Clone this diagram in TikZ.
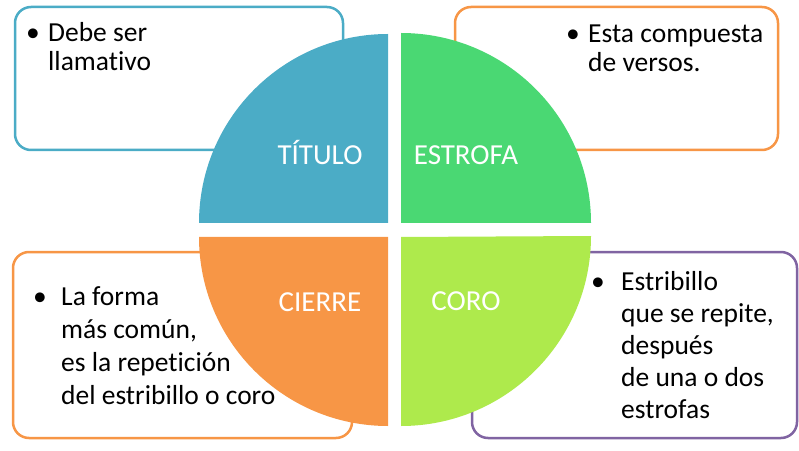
\documentclass[tikz,border=0pt]{standalone}
\usepackage{fontspec}
\setmainfont{Carlito}[Ligatures=NoCommon]
\definecolor{azul}{HTML}{4BACC6}
\definecolor{verde}{HTML}{4AD873}
\definecolor{lima}{HTML}{AEEA4C}
\definecolor{naranja}{HTML}{F79646}
\definecolor{morado}{HTML}{8064A2}
\begin{document}
\begin{tikzpicture}[x=1pt,y=1pt,font=\fontsize{27.5}{29}\selectfont,
  caja/.style={line width=2.5pt,rounded corners=16pt,fill=white},
  rotulo/.style={text=white,anchor=base,inner sep=0pt,font=\fontsize{29}{32}\selectfont},
  punto/.style={anchor=base west,inner sep=0pt},
  texto/.style={anchor=base west,align=left,inner sep=0pt}]
\useasboundingbox (0,0) rectangle (799,450);
%boxes
 \draw[caja,draw=azul] (15,300) rectangle (343,443); %titulo box
 \draw[caja,draw=naranja] (455,300) rectangle (778,443); %estrofa box
 \draw[caja,draw=naranja] (13,12) rectangle (352,198); %cierre box
 \draw[caja,draw=morado] (472,12) rectangle (797,198); %coro box
%circle
	%quarters
	\fill[azul] (388,227) -- ++(0,189) arc[start angle=90,end angle=180,radius=189] -- cycle; %titulo
	\fill[verde] (401,227) -- ++(190,0) arc[start angle=0,end angle=90,radius=190] -- cycle; %estrofa
	\fill[naranja] (388,213) -- ++(-189,0) arc[start angle=180,end angle=270,radius=189] -- cycle; %cierre
	\fill[lima] (401,213) -- ++(0,-189) arc[start angle=270,end angle=360,radius=190] -- cycle; %coro
	
	%labels
	\node[rotulo] (titulo) at (320,285) {TÍTULO};
	\node[rotulo] (estrofa) at (466,285) {ESTROFA};
	\node[rotulo] (cierre) at (320,139) {CIERRE};
	\node[rotulo] (coro) at (466,140) {CORO};
%bullets (text nodes sit on their last line)
 \node[punto] (p1) at (26,408) {•};
 \node[texto] (t1) at (48,379) {Debe ser\\llamativo}; %titulo text
 \node[punto] (p2) at (566,407) {•};
 \node[texto] (t2) at (588,378) {Esta compuesta\\de versos.}; %estrofa text
 \node[punto] (p3) at (33,145) {•};
 \node[texto,font=\fontsize{27.5}{33}\selectfont] (t3) at (61,46) {La forma\\más común,\\es la repetición\\del estribillo o coro}; %cierre text
 \node[punto] (p4) at (591,160) {•};
 \node[texto,font=\fontsize{27.5}{32}\selectfont] (t4) at (621,32) {Estribillo\\que se repite,\\después\\de una o dos\\estrofas}; %coro text
\end{tikzpicture}
\end{document}
